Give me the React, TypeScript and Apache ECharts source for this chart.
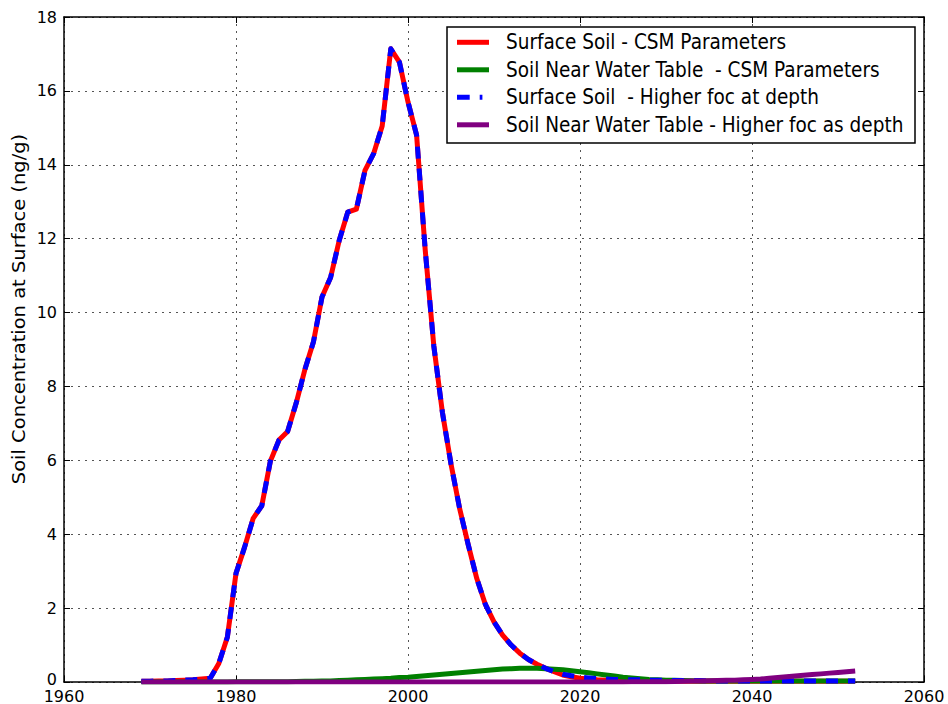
import React, { useEffect, useRef } from "react";
import * as echarts from "echarts";

// ---------- DATA ----------
const startYear = 1969;

// Surface Soil - CSM Parameters (1969 .. 2052, yearly)
const surfaceCsm = [
  0.02, 0.02, 0.03, 0.03, 0.04, 0.05, 0.06, 0.08, 0.1, 0.5,
  1.22, 2.94, 3.65, 4.43, 4.77, 5.98, 6.55, 6.78, 7.55, 8.45,
  9.2, 10.42, 10.95, 11.95, 12.72, 12.8, 13.85, 14.3, 15.05, 17.14,
  16.78, 15.7, 14.8, 11.7, 9.1, 7.3, 5.9, 4.7, 3.72, 2.8,
  2.1, 1.63, 1.27, 1.0, 0.78, 0.61, 0.48, 0.37, 0.28, 0.19,
  0.14, 0.1, 0.08, 0.06, 0.05, 0.04, 0.03, 0.03, 0.02, 0.02,
  0.02, 0.02, 0.02, 0.02, 0.02, 0.02, 0.02, 0.02, 0.02, 0.02,
  0.02, 0.02, 0.02, 0.02, 0.02, 0.02, 0.02, 0.02, 0.02, 0.02,
  0.02, 0.02, 0.02, 0.02,
];

// Soil Near Water Table - CSM Parameters
const nearWtCsm = [
  0, 0, 0, 0, 0, 0, 0, 0, 0, 0,
  0, 0.005, 0.005, 0.005, 0.01, 0.01, 0.01, 0.01, 0.015, 0.02,
  0.02, 0.03, 0.03, 0.04, 0.05, 0.06, 0.07, 0.08, 0.09, 0.1,
  0.12, 0.13, 0.15, 0.17, 0.19, 0.21, 0.23, 0.25, 0.27, 0.29,
  0.31, 0.33, 0.35, 0.36, 0.37, 0.375, 0.37, 0.36, 0.345, 0.33,
  0.305, 0.28, 0.25, 0.22, 0.19, 0.16, 0.13, 0.11, 0.09, 0.07,
  0.06, 0.05, 0.045, 0.04, 0.035, 0.03, 0.03, 0.025, 0.025, 0.025,
  0.025, 0.025, 0.025, 0.025, 0.025, 0.025, 0.025, 0.025, 0.025, 0.025,
  0.025, 0.025, 0.025, 0.025,
];

// Surface Soil - Higher foc at depth
const surfaceHighFoc = [
  0.02, 0.02, 0.03, 0.03, 0.04, 0.05, 0.06, 0.08, 0.1, 0.5,
  1.22, 2.94, 3.65, 4.43, 4.77, 5.98, 6.55, 6.78, 7.55, 8.45,
  9.2, 10.42, 10.95, 11.95, 12.72, 12.8, 13.85, 14.3, 15.05, 17.14,
  16.78, 15.7, 14.8, 11.7, 9.1, 7.3, 5.9, 4.7, 3.72, 2.8,
  2.1, 1.63, 1.27, 1.0, 0.78, 0.61, 0.48, 0.37, 0.28, 0.21,
  0.17, 0.13, 0.11, 0.09, 0.08, 0.07, 0.07, 0.06, 0.06, 0.05,
  0.05, 0.05, 0.04, 0.04, 0.04, 0.04, 0.03, 0.03, 0.03, 0.03,
  0.03, 0.03, 0.03, 0.03, 0.03, 0.03, 0.03, 0.03, 0.03, 0.03,
  0.03, 0.03, 0.03, 0.03,
];

// Soil Near Water Table - Higher foc as depth
const nearWtHighFoc = [
  0, 0, 0, 0, 0, 0, 0, 0, 0, 0,
  0, 0, 0, 0, 0, 0, 0, 0, 0, 0,
  0, 0, 0, 0, 0, 0, 0, 0, 0, 0,
  0, 0, 0, 0, 0, 0, 0, 0, 0, 0,
  0, 0, 0, 0, 0, 0, 0, 0, 0, 0,
  0, 0, 0, 0, 0, 0, 0, 0.005, 0.005, 0.005,
  0.005, 0.01, 0.015, 0.02, 0.025, 0.03, 0.035, 0.04, 0.045, 0.05,
  0.06, 0.07, 0.08, 0.1, 0.12, 0.14, 0.16, 0.18, 0.2, 0.22,
  0.24, 0.26, 0.28, 0.3,
];

const seriesNames = [
  "Surface Soil - CSM Parameters",
  "Soil Near Water Table  - CSM Parameters",
  "Surface Soil  - Higher foc at depth",
  "Soil Near Water Table - Higher foc as depth",
];
const seriesColors = ["#ff0000", "#008000", "#0000ff", "#800080"];

const xTicks = [1960, 1980, 2000, 2020, 2040, 2060];
const yTicks = [0, 2, 4, 6, 8, 10, 12, 14, 16, 18];
const yAxisLabel = "Soil Concentration at Surface (ng/g)";

// ---------- CHART ----------
const FONT = "'DejaVu Sans', sans-serif";

function toPairs(values: number[]) {
  return values.map((v, i) => [startYear + i, v]);
}

export default function App() {
  const ref = useRef<HTMLDivElement>(null);

  useEffect(() => {
    if (!ref.current) return;
    const chart = echarts.init(ref.current, undefined, { renderer: "svg" });

    const xInterval = xTicks[1] - xTicks[0];
    const yInterval = yTicks[1] - yTicks[0];
    const seriesData = [surfaceCsm, nearWtCsm, surfaceHighFoc, nearWtHighFoc];
    const dashes: any[] = ["solid", "solid", [12, 10], "solid"];
    const legendDashes: any[] = [null, null, [12.7, 10, 2.7, 20], null];

    const axisLineStyle = { color: "#000", width: 1.5 };
    const tickStyle = { show: true, inside: true, length: 6, lineStyle: { color: "#000", width: 1 } };
    const gridStyle = { show: true, lineStyle: { color: "#555", width: 1, type: [2, 5] as any } };

    const legendRow0 = 42.3;
    const legendStep = 27.5;
    const legendElems: any[] = [
      {
        type: "rect",
        shape: { x: 447, y: 27, width: 468, height: 116 },
        style: { fill: "#fff", stroke: "#000", lineWidth: 1.5 },
        z: 100,
      },
    ];
    seriesNames.forEach((name, i) => {
      const y = legendRow0 + i * legendStep;
      legendElems.push({
        type: "line",
        shape: { x1: 457, y1: y, x2: 489, y2: y },
        style: { stroke: seriesColors[i], lineWidth: 5, lineDash: legendDashes[i] || undefined },
        z: 101,
      });
      legendElems.push({
        type: "text",
        x: 506,
        y: y,
        scaleX: 0.88,
        style: {
          text: name,
          fontSize: 21,
          fontFamily: FONT,
          fill: "#000",
          align: "left",
          verticalAlign: "middle",
        },
        z: 101,
      });
    });

    const option: any = {
      animation: false,
      backgroundColor: "#fff",
      grid: {
        left: 64,
        right: 24,
        top: 17,
        bottom: 22,
        containLabel: false,
        outerBoundsMode: "none",
      },
      xAxis: [
        {
          type: "value",
          position: "bottom",
          min: xTicks[0],
          max: xTicks[xTicks.length - 1],
          interval: xInterval,
          axisLine: { show: true, onZero: false, lineStyle: axisLineStyle },
          axisTick: tickStyle,
          axisLabel: {
            color: "#000",
            fontSize: 16,
            lineHeight: 16,
            fontFamily: FONT,
            margin: 6,
            formatter: (v: number) => String(v),
          },
          splitLine: gridStyle,
        },
        {
          type: "value",
          position: "top",
          min: xTicks[0],
          max: xTicks[xTicks.length - 1],
          interval: xInterval,
          axisLine: { show: true, onZero: false, lineStyle: axisLineStyle },
          axisTick: tickStyle,
          axisLabel: { show: false },
          splitLine: { show: false },
        },
      ],
      yAxis: [
        {
          type: "value",
          position: "left",
          min: yTicks[0],
          max: yTicks[yTicks.length - 1],
          interval: yInterval,
          axisLine: { show: true, onZero: false, lineStyle: axisLineStyle },
          axisTick: tickStyle,
          axisLabel: {
            color: "#000",
            fontSize: 16,
            lineHeight: 14,
            fontFamily: FONT,
            margin: 7,
            formatter: (v: number) => (v === yTicks[0] ? "{z|" + v + "}" : String(v)),
            rich: {
              z: {
                fontSize: 16,
                lineHeight: 14,
                fontFamily: FONT,
                color: "#000",
                padding: [0, 0, 6, 0],
              },
            },
          },
          splitLine: gridStyle,
        },
        {
          type: "value",
          position: "right",
          min: yTicks[0],
          max: yTicks[yTicks.length - 1],
          interval: yInterval,
          axisLine: { show: true, onZero: false, lineStyle: axisLineStyle },
          axisTick: tickStyle,
          axisLabel: { show: false },
          splitLine: { show: false },
        },
      ],
      series: seriesNames.map((name, i) => ({
        type: "line",
        name,
        xAxisIndex: 0,
        yAxisIndex: 0,
        data: toPairs(seriesData[i]),
        showSymbol: false,
        symbol: "none",
        silent: true,
        z: 2 + i,
        lineStyle: {
          color: seriesColors[i],
          width: 5,
          type: dashes[i],
          cap: "butt",
          join: "round",
        },
        itemStyle: { color: seriesColors[i] },
      })),
      graphic: [
        ...legendElems,
        {
          type: "text",
          x: 19,
          y: 309,
          rotation: Math.PI / 2,
          scaleY: 0.865,
          style: {
            text: yAxisLabel,
            fontSize: 19.5,
            fontFamily: FONT,
            fill: "#000",
            align: "center",
            verticalAlign: "middle",
          },
          z: 100,
        },
      ],
    };

    chart.setOption(option);
    return () => {
      chart.dispose();
    };
  }, []);

  return (
    <div
      ref={ref}
      style={{ position: "absolute", left: 0, top: 0, width: 948, height: 704 }}
    />
  );
}
